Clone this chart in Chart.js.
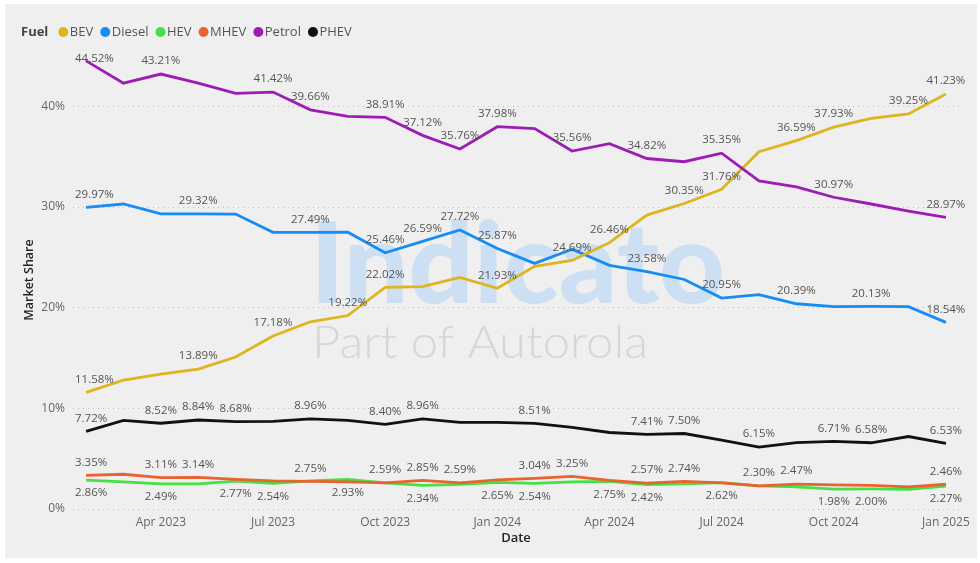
<!DOCTYPE html>
<html>
<head>
<meta charset="utf-8">
<script src="https://cdn.jsdelivr.net/npm/chart.js@4/dist/chart.umd.min.js"></script>
<style>
  html, body { margin: 0; padding: 0; background: #fff; }
  #wrap { position: absolute; left: 0; top: 0; width: 980px; height: 563px; }
</style>
</head>
<body>
<div id="wrap"><canvas id="shareChart" width="980" height="563"></canvas></div>
<script>
// months on the x axis (Feb 2023 .. Jan 2025)
const months = ['Feb 2023','Mar 2023','Apr 2023','May 2023','Jun 2023','Jul 2023','Aug 2023','Sep 2023','Oct 2023','Nov 2023','Dec 2023',
  'Jan 2024','Feb 2024','Mar 2024','Apr 2024','May 2024','Jun 2024','Jul 2024','Aug 2024','Sep 2024','Oct 2024','Nov 2024','Dec 2024','Jan 2025'];
const xTickIdx = [2, 5, 8, 11, 14, 17, 20, 23];
const yTicks = [0, 10, 20, 30, 40];

const bev    = [11.58, 12.8, 13.4, 13.89, 15.1, 17.18, 18.6, 19.22, 22.02, 22.1, 23.0, 21.93, 24.1, 24.69, 26.46, 29.2, 30.35, 31.76, 35.5, 36.59, 37.93, 38.8, 39.25, 41.23];
const diesel = [29.97, 30.3, 29.32, 29.32, 29.3, 27.49, 27.49, 27.5, 25.46, 26.59, 27.72, 25.87, 24.4, 25.8, 24.2, 23.58, 22.8, 20.95, 21.3, 20.39, 20.1, 20.13, 20.1, 18.54];
const hev    = [2.86, 2.7, 2.49, 2.5, 2.77, 2.54, 2.8, 2.93, 2.6, 2.34, 2.45, 2.65, 2.54, 2.7, 2.75, 2.42, 2.5, 2.62, 2.3, 2.2, 1.98, 2.00, 1.95, 2.27];
const mhev   = [3.35, 3.45, 3.11, 3.14, 2.95, 2.8, 2.75, 2.7, 2.59, 2.85, 2.59, 2.9, 3.04, 3.25, 2.85, 2.57, 2.74, 2.6, 2.30, 2.47, 2.4, 2.35, 2.2, 2.46];
const petrol = [44.52, 42.3, 43.21, 42.3, 41.3, 41.42, 39.66, 39.0, 38.91, 37.12, 35.76, 37.98, 37.8, 35.56, 36.3, 34.82, 34.5, 35.35, 32.6, 32.0, 30.97, 30.3, 29.6, 28.97];
const phev   = [7.72, 8.8, 8.52, 8.84, 8.68, 8.7, 8.96, 8.8, 8.40, 8.96, 8.6, 8.6, 8.51, 8.1, 7.6, 7.41, 7.50, 6.85, 6.15, 6.6, 6.71, 6.58, 7.2, 6.53];

// which points carry a data label
const bevLbl    = [0, 3, 5, 7, 8, 11, 13, 14, 16, 17, 19, 20, 22, 23];
const dieselLbl = [0, 3, 6, 8, 9, 10, 11, 15, 17, 19, 21, 23];
const hevLbl    = [0, 2, 4, 5, 7, 9, 11, 12, 14, 15, 17, 20, 21, 23];
const mhevLbl   = [0, 2, 3, 6, 8, 9, 10, 12, 13, 15, 16, 18, 19, 23];
const petrolLbl = [0, 2, 5, 6, 8, 9, 10, 11, 13, 15, 17, 20, 23];
const phevLbl   = [0, 2, 3, 4, 6, 8, 9, 12, 15, 16, 18, 20, 21, 23];

const FONT = '"Segoe UI", "Open Sans", sans-serif';
const toXY = arr => arr.map((v, i) => ({x: i, y: v}));

function ds(label, data, color, lbl, below, order) {
  return { label, data: toXY(data), borderColor: color, backgroundColor: color, order,
    borderWidth: 2.8, pointRadius: 0, tension: 0, lblIdx: lbl, lblBelow: !!below };
}

// grey panel behind everything
const panel = {
  id: 'panel',
  beforeDraw(chart) {
    const c = chart.ctx;
    c.save();
    c.fillStyle = '#efefef';
    c.fillRect(5, 4, 972, 554);
    c.restore();
  }
};

// faint logo watermark in the plot
const watermark = {
  id: 'watermark',
  beforeDatasetsDraw(chart) {
    const c = chart.ctx;
    c.save();
    c.font = '900 112px Lato, sans-serif';
    let w = c.measureText('Indicato').width;
    c.translate(310, 303);
    c.scale(415 / w, 1);
    c.fillStyle = '#cde0f3';
    c.textBaseline = 'alphabetic';
    c.fillText('Indicato', 0, 0);
    c.restore();
    c.save();
    c.font = '300 46px Lato, sans-serif';
    w = c.measureText('Part of Autorola').width;
    c.translate(312, 358);
    c.scale(336 / w, 1);
    c.fillStyle = '#d6d6d6';
    c.fillText('Part of Autorola', 0, 0);
    c.restore();
  }
};

const pointLabels = {
  id: 'pointLabels',
  afterDatasetsDraw(chart) {
    const c = chart.ctx;
    const area = chart.chartArea;
    c.save();
    c.font = '11.5px ' + FONT;
    c.fillStyle = '#555';
    c.textBaseline = 'middle';
    c.textAlign = 'center';
    chart.data.datasets.forEach((d, di) => {
      const meta = chart.getDatasetMeta(di);
      d.lblIdx.forEach(i => {
        const p = meta.data[i];
        const txt = d.data[i].y.toFixed(2) + '%';
        const w = c.measureText(txt).width;
        let x = p.x;
        if (x - w / 2 < area.left + 2) x = area.left + 2 + w / 2;
        let y = d.lblBelow ? p.y + 13 : p.y - 13;
        if (y < area.top + 8) y = area.top + 8;
        c.fillText(txt, x, y);
      });
    });
    c.restore();
  }
};

const legendRow = {
  id: 'legendRow',
  afterDraw(chart) {
    const c = chart.ctx;
    c.save();
    c.textBaseline = 'middle';
    c.font = 'bold 13px ' + FONT;
    c.fillStyle = '#444';
    c.fillText('Fuel', 21, 32);
    let x = 21 + c.measureText('Fuel').width + 10;
    c.font = '13px ' + FONT;
    chart.data.datasets.forEach(d => {
      c.fillStyle = d.borderColor;
      c.beginPath();
      c.arc(x + 5, 32, 5, 0, Math.PI * 2);
      c.fill();
      x += 11.5;
      c.fillStyle = '#555';
      c.fillText(d.label, x, 32);
      x += c.measureText(d.label).width + 7;
    });
    c.restore();
  }
};

const ctx = document.getElementById('shareChart');
new Chart(ctx, {
  type: 'line',
  data: {
    datasets: [
      ds('BEV', bev, '#dcb51f', bevLbl, false, 2),
      ds('Diesel', diesel, '#168cf5', dieselLbl, false, 3),
      ds('HEV', hev, '#45e045', hevLbl, true, 6),
      ds('MHEV', mhev, '#ea6230', mhevLbl, false, 5),
      ds('Petrol', petrol, '#9c1cb4', petrolLbl, false, 1),
      ds('PHEV', phev, '#111111', phevLbl, false, 4)
    ]
  },
  options: {
    responsive: false,
    animation: false,
    layout: { padding: { top: 51, left: 0, right: 21, bottom: 0 } },
    plugins: { legend: { display: false }, tooltip: { enabled: false } },
    scales: {
      x: {
        type: 'linear', min: -0.35, max: 23.35,
        afterBuildTicks: s => { s.ticks = xTickIdx.map(v => ({value: v})); },
        afterFit: s => { s.height = 54; },
        grid: { display: false, drawTicks: false },
        border: { display: false },
        ticks: { color: '#666', font: { family: FONT, size: 12 }, padding: 6, maxRotation: 0, autoSkip: false,
          callback: v => months[v] },
        title: { display: true, text: 'Date', color: '#252423', font: { family: FONT, size: 13, weight: '600' },
          padding: { top: 0, bottom: 17 } }
      },
      y: {
        min: 0, max: 45.5,
        afterBuildTicks: s => { s.ticks = yTicks.map(v => ({value: v})); },
        afterFit: s => { s.width = 73; },
        grid: { color: '#bdbdbd', drawTicks: false, lineWidth: 1 },
        border: { display: false, dash: [1, 4] },
        ticks: { color: '#666', font: { family: FONT, size: 12 }, padding: 8, callback: v => v + '%' },
        title: { display: true, text: 'Market Share', color: '#252423', font: { family: FONT, size: 12.5, weight: '600' },
          padding: { top: 22, bottom: 0 } }
      }
    }
  },
  plugins: [panel, watermark, pointLabels, legendRow]
});
</script>
</body>
</html>
